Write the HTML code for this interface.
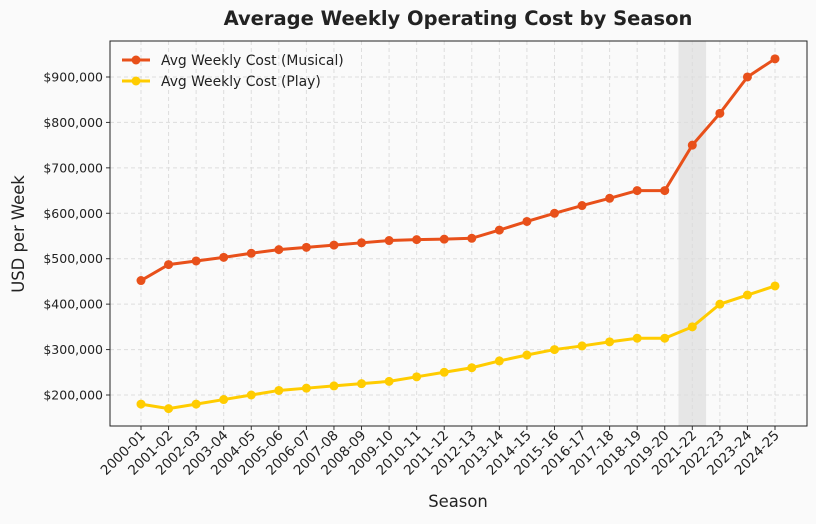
<!DOCTYPE html>
<html><head><meta charset="utf-8"><style>
body{margin:0;background:#fafafa;font-family:"DejaVu Sans","Liberation Sans",sans-serif;}
</style></head><body>
<svg width="816" height="520" xmlns="http://www.w3.org/2000/svg">
<rect width="816" height="520" fill="#fafafa"/>
<text x="458" y="25" text-anchor="middle" font-size="19.5" font-weight="bold" fill="#222">Average Weekly Operating Cost by Season</text>
<g id="plot"></g>
</svg>
<script>
const seasons=["2000-01","2001-02","2002-03","2003-04","2004-05","2005-06","2006-07","2007-08","2008-09","2009-10","2010-11","2011-12","2012-13","2013-14","2014-15","2015-16","2016-17","2017-18","2018-19","2019-20","2021-22","2022-23","2023-24","2024-25"];
const musical=[452000,487000,495000,503000,512000,520000,525000,530000,535000,540000,542000,543000,545000,563000,582000,600000,617000,633000,650000,650000,750000,820000,900000,940000];
const play=[180000,170000,180000,190000,200000,210000,215000,220000,225000,230000,240000,250000,260000,275000,288000,300000,308000,317000,325000,325000,350000,400000,420000,440000];
const yTicks=[200000,300000,400000,500000,600000,700000,800000,900000];
const highlight="2021-22";
const L=110,R=807,T=41,B=426;
const xs=i=>141+i*(775-141)/(seasons.length-1);
const ys=v=>395-(v-200000)/100000*45.43;
const NS="http://www.w3.org/2000/svg";
const g=document.getElementById('plot');
function mk(t,a,p){const e=document.createElementNS(NS,t);for(const k in a)e.setAttribute(k,a[k]);(p||g).appendChild(e);return e;}
const step=(775-141)/(seasons.length-1);
const hi=seasons.indexOf(highlight);
let band=mk('rect',{x:xs(hi)-step/2,y:T,width:step,height:B-T,fill:'#e6e6e6'});


yTicks.forEach(v=>{
 let l=mk('line',{x1:L,x2:R,y1:ys(v),y2:ys(v),stroke:'#ddd','stroke-dasharray':'4,3'});
 
 mk('line',{x1:L-4,x2:L,y1:ys(v),y2:ys(v),stroke:'#333'});
 let t=mk('text',{x:L-7,y:ys(v)+4.5,'text-anchor':'end','font-size':'12.5',fill:'#222'});
 t.textContent='$'+v.toLocaleString('en-US');
 
});
seasons.forEach((s,i)=>{
 let l=mk('line',{x1:xs(i),x2:xs(i),y1:T,y2:B,stroke:'#ddd','stroke-dasharray':'4,3'});
 
 mk('line',{x1:xs(i),x2:xs(i),y1:B,y2:B+4,stroke:'#333'});
 let t=mk('text',{transform:`translate(${xs(i)+5},${B+10}) rotate(-45)`,'text-anchor':'end','font-size':'13.5',fill:'#222'});
 t.textContent=s;
 
});
let fr=mk('rect',{x:L,y:T,width:R-L,height:B-T,fill:'none',stroke:'#222'});

function series(vals,color,name){
 let p=mk('polyline',{points:vals.map((v,i)=>xs(i)+','+ys(v)).join(' '),fill:'none',stroke:color,'stroke-width':3});
 
 vals.forEach((v,i)=>{let c=mk('circle',{cx:xs(i),cy:ys(v),r:4.5,fill:color});
 });
}
series(musical,'#e8501a','musical');
series(play,'#ffcc00','play');
[['#e8501a','Avg Weekly Cost (Musical)',60],['#ffcc00','Avg Weekly Cost (Play)',81]].forEach(([c,txt,y])=>{
 mk('line',{x1:122,x2:150,y1:y,y2:y,stroke:c,'stroke-width':3});
 mk('circle',{cx:136,cy:y,r:4.5,fill:c});
 let t=mk('text',{x:161,y:y+5,'font-size':'13.9',fill:'#222'});t.textContent=txt;
 
});
let xt=mk('text',{x:458,y:507,'text-anchor':'middle','font-size':'16.4',fill:'#222'});xt.textContent='Season';

let yt=mk('text',{transform:'translate(24,234) rotate(-90)','text-anchor':'middle','font-size':'16.4',fill:'#222'});yt.textContent='USD per Week';

</script>
</body></html>
